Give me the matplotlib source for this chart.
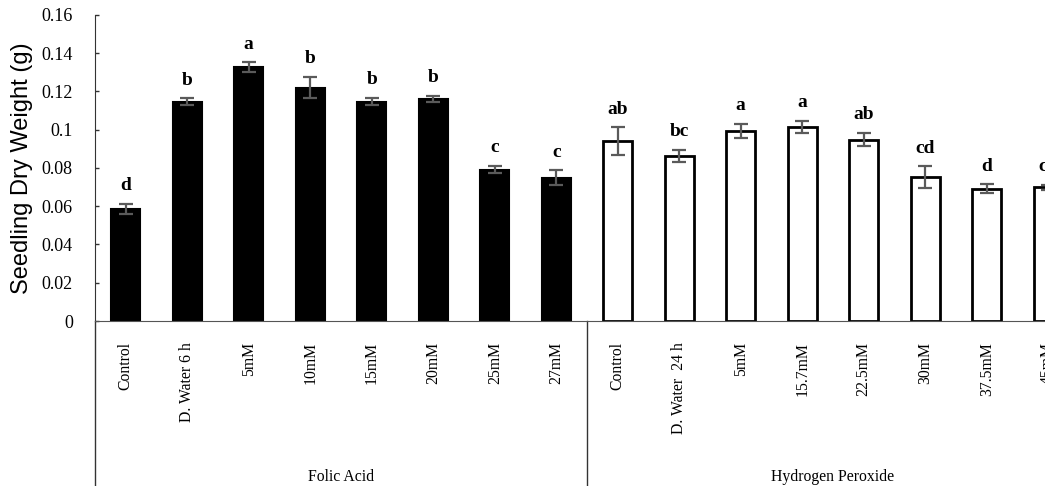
import numpy as np
import matplotlib.pyplot as plt
from matplotlib.transforms import blended_transform_factory

plt.switch_backend('Agg')

# treatments
fa_labels = ['Control', 'D. Water 6 h', '5mM', '10mM', '15mM', '20mM', '25mM', '27mM']
hp_labels = ['Control', 'D. Water  24 h', '5mM', '15.7mM', '22.5mM', '30mM', '37.5mM', '45mM']

# seedling dry weight (g) and standard errors
fa_values = [0.0584, 0.1147, 0.1328, 0.1220, 0.1147, 0.1161, 0.0791, 0.0749]
fa_errors = [0.0027, 0.0017, 0.0024, 0.0056, 0.0018, 0.0015, 0.0019, 0.0039]
hp_values = [0.0941, 0.0863, 0.0995, 0.1014, 0.0948, 0.0753, 0.0692, 0.0699]
hp_errors = [0.0072, 0.0033, 0.0037, 0.0033, 0.0034, 0.0055, 0.0022, 0.0012]

# significance letters
fa_letters = ['d', 'b', 'a', 'b', 'b', 'b', 'c', 'c']
hp_letters = ['ab', 'bc', 'a', 'a', 'ab', 'cd', 'd', 'cd']

group_names = ['Folic Acid', 'Hydrogen Peroxide']

serif = ['Liberation Serif', 'DejaVu Serif']
sans = ['Liberation Sans', 'DejaVu Sans']

fig = plt.figure(figsize=(10.45, 4.86), dpi=100)
# axes runs past the right edge of the figure, as in the original crop
ax = fig.add_axes([95 / 1045, 165 / 486, 984 / 1045, 306 / 486])

n_fa = len(fa_labels)
x_fa = np.arange(n_fa)
x_hp = np.arange(len(hp_labels)) + n_fa
width = 0.47

err_kw = dict(ecolor='#5a5a5a', elinewidth=1.6, capsize=5, capthick=1.6)
ax.bar(x_fa, fa_values, width, color='black', edgecolor='black', linewidth=1.5,
       yerr=fa_errors, error_kw=err_kw)
ax.bar(x_hp, hp_values, width, color='white', edgecolor='black', linewidth=2,
       yerr=hp_errors, error_kw=err_kw)

for xs, vals, errs, lets in [(x_fa, fa_values, fa_errors, fa_letters),
                             (x_hp, hp_values, hp_errors, hp_letters)]:
    for x, v, e, t in zip(xs, vals, errs, lets):
        ax.annotate(t, (x, v + e), xytext=(0, 7), textcoords='offset points',
                    ha='center', va='bottom', fontsize=14, fontweight='bold',
                    family=serif, annotation_clip=False)

ax.set_xlim(-0.5, 15.5)
ax.set_ylim(0, 0.16)
ax.set_yticks(np.arange(0, 0.161, 0.02))
ax.set_yticklabels(['0', '0.02', '0.04', '0.06', '0.08', '0.1', '0.12', '0.14', '0.16'],
                   family=serif, fontsize=13)
ax.tick_params(axis='y', direction='in', length=3, width=1, pad=16, color='#333333')

ax.set_xticks(list(x_fa) + list(x_hp))
ax.set_xticklabels(fa_labels + hp_labels, rotation=90, va='top', ha='center',
                   family=serif, fontsize=11.3)
ax.tick_params(axis='x', length=0, pad=15)

ax.set_ylabel('Seedling Dry Weight (g)', family=sans, fontsize=17, labelpad=6)

for s in ['top', 'right']:
    ax.spines[s].set_visible(False)
ax.spines['left'].set_color('#333333')
ax.spines['bottom'].set_color('#555555')

# group dividers and group names below the axis
trans = blended_transform_factory(ax.transData, ax.transAxes)
for xv in [-0.5, 7.5]:
    ax.plot([xv, xv], [0, -0.6], transform=trans, color='#333333', lw=1, clip_on=False)
ax.text(3.5, -0.51, group_names[0], transform=trans, ha='center', va='center',
        family=serif, fontsize=11.3)
ax.text(11.5, -0.51, group_names[1], transform=trans, ha='center', va='center',
        family=serif, fontsize=11.3)

fig.savefig('out.png', dpi=100)
